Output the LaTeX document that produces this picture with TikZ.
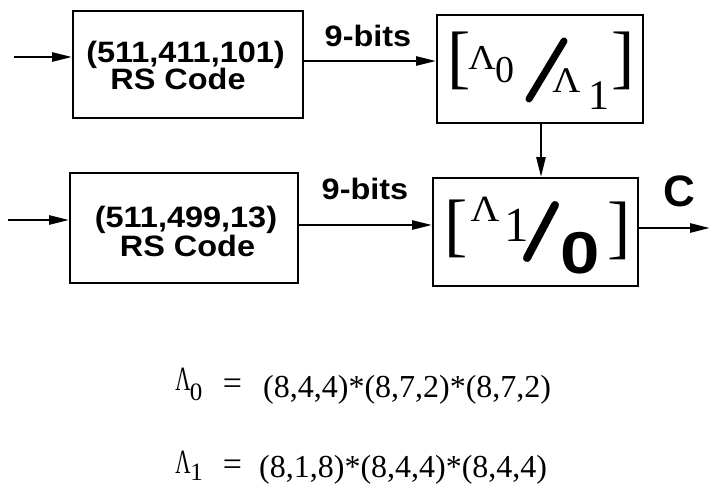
\documentclass[tikz,border=0pt]{standalone}
\usepackage{fontspec}
\usepackage{graphicx}
\setmainfont{Liberation Serif}
\newfontfamily\hvfont{Liberation Sans}
\newcommand{\hstretch}[1]{\scalebox{1.1}[1]{#1}}
\newcommand{\narrowL}{\scalebox{0.62}[1]{Λ}}
\newcommand{\wideL}{\scalebox{1.08}[1]{Λ}}
\usetikzlibrary{arrows.meta}
\begin{document}
\begin{tikzpicture}[x=1pt,y=-1pt,
  blk/.style={draw,line width=1.8pt,inner sep=0pt},
  lbl/.style={font=\hvfont\bfseries\fontsize{29.5}{30}\selectfont,inner sep=0pt,anchor=base},
  arr/.style={line width=2.6pt,-{Triangle[length=20pt,width=9pt]}},
  sr/.style={inner sep=0pt,anchor=base}]
\useasboundingbox (0,0) rectangle (716,492);

% blocks
\node[blk,minimum width=230pt,minimum height=107pt] (rs1) at (188,64.5) {};
\node[blk,minimum width=206pt,minimum height=108pt] (mx1) at (540,69) {};
\node[blk,minimum width=228pt,minimum height=110pt] (rs2) at (184,228) {};
\node[blk,minimum width=205pt,minimum height=108pt] (mx2) at (535.5,232) {};

% block texts
\node[lbl] (rs1a) at (185.5,63) {\hstretch{(511,411,101)}};
\node[lbl] (rs1b) at (178,90) {\hstretch{RS Code}};
\node[lbl] (rs2a) at (186,228) {\hstretch{(511,499,13)}};
\node[lbl] (rs2b) at (187.5,257) {\hstretch{RS Code}};

% mixer 1 contents
\node[sr,font=\fontsize{70}{70}\selectfont] (b1l) at (459,81) {[};
\node[sr,font=\fontsize{35}{35}\selectfont] (b1a) at (482,70) {\wideL};
\node[sr,font=\fontsize{38}{38}\selectfont] (b1b) at (504.5,83) {0};
\draw[line width=7pt,line cap=round] (529,99) -- (564,41);
\node[sr,font=\fontsize{36}{36}\selectfont] (b1c) at (566.5,93) {\wideL};
\node[sr,font=\fontsize{42}{42}\selectfont] (b1d) at (598.5,110) {1};
\node[sr,font=\fontsize{70}{70}\selectfont] (b1r) at (623,81) {]};

% mixer 2 contents
\node[sr,font=\fontsize{70}{70}\selectfont] (b2l) at (456,249) {[};
\node[sr,font=\fontsize{37}{37}\selectfont] (b2a) at (485,222) {\wideL};
\node[sr,font=\fontsize{49}{49}\selectfont] (b2b) at (516.5,242) {1};
\draw[line width=8pt,line cap=round] (527,258) -- (555,205);
\node[sr,font=\hvfont\bfseries\fontsize{59}{59}\selectfont] (b2c) at (580.5,273) {\scalebox{1.2}[1]{0}};
\node[sr,font=\fontsize{70}{70}\selectfont] (b2r) at (619,251) {]};

% connectors
\coordinate (in1) at (14,57);
\coordinate (in2) at (8,220);
\coordinate (out) at (710,228);
\draw[arr] (in1) -- (in1 -| rs1.west);
\draw[arr] (in2) -- (in2 -| rs2.west);
\coordinate (h1) at (303,61);
\coordinate (h2) at (303,225);
\draw[arr] (h1 -| rs1.east) -- (h1 -| mx1.west);
\draw[arr] (h2 -| rs2.east) -- (h2 -| mx2.west);
\coordinate (v1) at (541,0);
\draw[arr] (v1 |- mx1.south) -- (v1 |- mx2.north);
\draw[arr] (out -| mx2.east) -- (out);

% connector labels
\node[lbl] (lab1) at (368,47) {\hstretch{9-bits}};
\node[lbl] (lab2) at (365,200) {\hstretch{9-bits}};
\node[lbl,font=\hvfont\bfseries\fontsize{44}{44}\selectfont] (labc) at (679,207) {C};

% formulas
\node[sr,font=\fontsize{34}{34}\selectfont] (f1a) at (183,390) {\narrowL};
\node[sr,font=\fontsize{25}{25}\selectfont] (f1b) at (196,400) {0};
\node[sr,font=\fontsize{34}{34}\selectfont] (f1c) at (232.5,395) {=};
\node[sr,anchor=base west,font=\fontsize{32}{32}\selectfont] (f1d) at (263,397) {(8,4,4)*(8,7,2)*(8,7,2)};

\node[sr,font=\fontsize{34}{34}\selectfont] (f2a) at (183,473) {\narrowL};
\node[sr,font=\fontsize{25}{25}\selectfont] (f2b) at (196.5,480) {1};
\node[sr,font=\fontsize{34}{34}\selectfont] (f2c) at (232.5,475) {=};
\node[sr,anchor=base west,font=\fontsize{32}{32}\selectfont] (f2d) at (259,477) {(8,1,8)*(8,4,4)*(8,4,4)};
\end{tikzpicture}
\end{document}
